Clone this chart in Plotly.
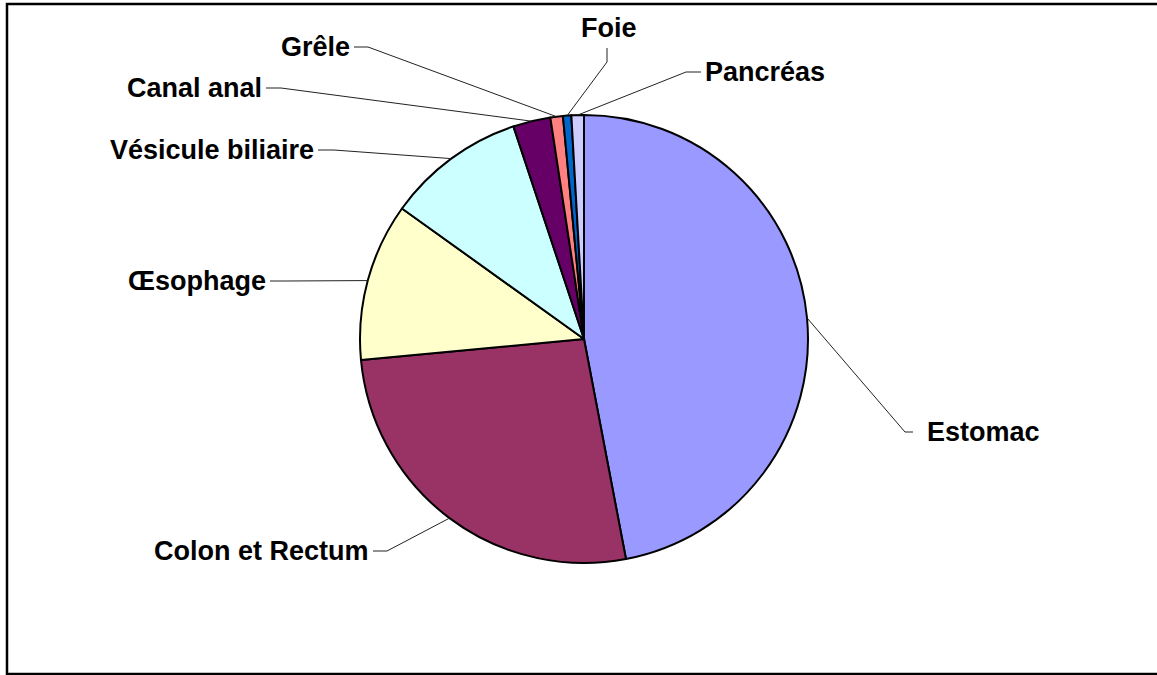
import math
import plotly.graph_objects as go

# ---- data ----
labels = ["Estomac", "Colon et Rectum", "Œsophage", "Vésicule biliaire",
          "Canal anal", "Grêle", "Foie", "Pancréas"]
values = [47.0, 26.5, 11.4, 10.0, 2.7, 0.9, 0.6, 0.9]
colors = ["#9999FF", "#993366", "#FFFFCC", "#CCFFFF",
          "#660066", "#FF8080", "#0066CC", "#CCCCFF"]

# ---- layout geometry (pixels) ----
W, H = 1157, 675
CX, CY, R = 584, 339, 224

def px(x):
    return x / W

def py(y):
    return 1 - y / H

# label placement: text position, anchor, stub start, elbow
label_pos = {
    "Estomac":           dict(tx=925, ty=432, xa="left",   s=(913, 432), e=(905, 432)),
    "Colon et Rectum":   dict(tx=371, ty=551, xa="right",  s=(373, 551), e=(387, 551)),
    "Œsophage":          dict(tx=268, ty=281, xa="right",  s=(270, 281), e=(285, 281)),
    "Vésicule biliaire": dict(tx=316, ty=150, xa="right",  s=(318, 150), e=(334, 150)),
    "Canal anal":        dict(tx=264, ty=88,  xa="right",  s=(266, 88),  e=(281, 88)),
    "Grêle":             dict(tx=352, ty=47,  xa="right",  s=(354, 47),  e=(368, 47)),
    "Foie":              dict(tx=609, ty=28,  xa="center", s=(607, 48),  e=(607, 62)),
    "Pancréas":          dict(tx=703, ty=72,  xa="left",   s=(701, 72),  e=(686, 72)),
}

fig = go.Figure(go.Pie(
    labels=labels, values=values, sort=False, direction="clockwise", rotation=0,
    marker=dict(colors=colors, line=dict(color="black", width=2)),
    textinfo="none", hoverinfo="label+percent", showlegend=False,
    domain=dict(x=[px(CX - R), px(CX + R)], y=[py(CY + R), py(CY - R)]),
))

font = dict(family="Liberation Sans, Arial, sans-serif", size=27, color="black", weight="bold")
annotations = []
shapes = []
total = sum(values)
cum = 0.0
for lab, v in zip(labels, values):
    mid = (cum + v / 2) / total * 2 * math.pi
    cum += v
    ex = CX + R * math.sin(mid)
    ey = CY - R * math.cos(mid)
    p = label_pos[lab]
    annotations.append(dict(text=lab, x=px(p["tx"]), y=py(p["ty"]), xref="paper", yref="paper",
                            xanchor=p["xa"], yanchor="middle", showarrow=False, font=font))
    (sx, sy), (kx, ky) = p["s"], p["e"]
    path = f"M {px(sx)} {py(sy)} L {px(kx)} {py(ky)} L {px(ex)} {py(ey)}"
    shapes.append(dict(type="path", path=path, xref="paper", yref="paper",
                       line=dict(color="#222222", width=1)))

# chart frame (left, top, bottom edges)
frame = f"M {px(1170)} {py(4)} L {px(7)} {py(4)} L {px(7)} {py(674)} L {px(1170)} {py(674)}"
shapes.append(dict(type="path", path=frame, xref="paper", yref="paper",
                   line=dict(color="black", width=2.5)))

fig.update_layout(
    width=W, height=H, margin=dict(l=0, r=0, t=0, b=0),
    paper_bgcolor="white", plot_bgcolor="white",
    annotations=annotations, shapes=shapes,
)

fig.write_html("out.html", config={"displayModeBar": False},
               post_script="document.body.style.margin='0px';document.body.style.overflow='hidden';")
